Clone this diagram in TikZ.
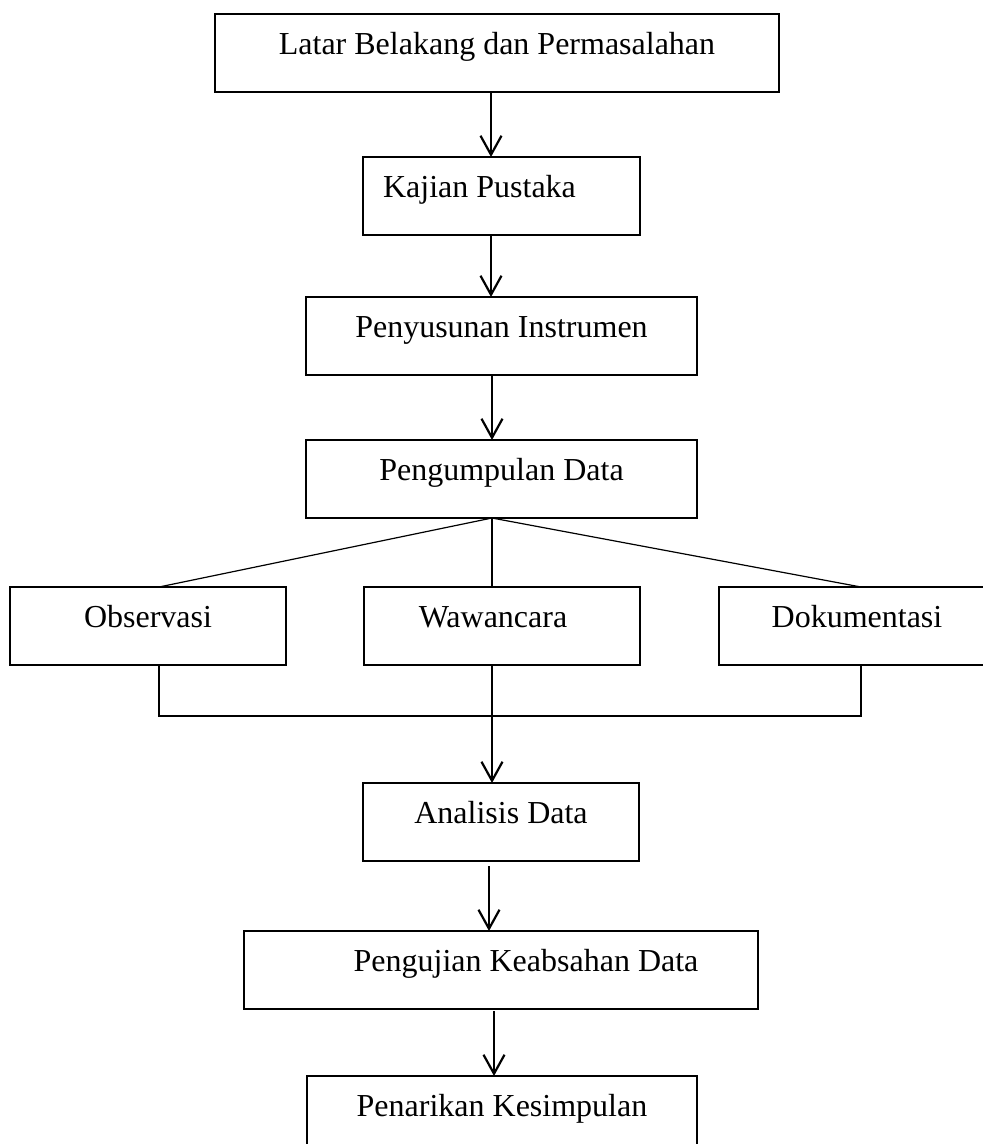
\documentclass[tikz,border=0pt]{standalone}
\usepackage{fontspec}
\setmainfont{Liberation Serif}
\usetikzlibrary{arrows.meta}
\begin{document}
\begin{tikzpicture}[x=1pt,y=-1pt,
  font=\fontsize{32}{38}\selectfont,
  boxnode/.style={draw=black, line width=1.1pt, rectangle, inner sep=0pt, outer sep=0pt,
    minimum height=78pt, text height=20pt, text depth=18pt},
  thinline/.style={draw=black, line width=1.2pt},
  flowarrow/.style={draw=black, line width=2.4pt, -{Straight Barb[length=19pt,width=21pt,line width=2.2pt]}}
]
\useasboundingbox (0,0) rectangle (983,1144);
\clip (0,0) rectangle (983,1144);

% boxes
\node[boxnode, minimum width=564pt] (b1) at (497,53) {Latar Belakang dan Permasalahan};
\node[boxnode, minimum width=277pt] (b2) at (501.5,196) {Kajian Pustaka\hspace*{44pt}};
\node[boxnode, minimum width=391pt] (b3) at (501.5,336) {Penyusunan Instrumen};
\node[boxnode, minimum width=391pt] (b4) at (501.5,479) {Pengumpulan Data};
\node[boxnode, minimum width=276pt] (b5) at (148,626) {Observasi};
\node[boxnode, minimum width=276pt] (b6) at (502,626) {Wawancara\hspace*{18pt}};
\node[boxnode, minimum width=276pt] (b7) at (857,626) {Dokumentasi};
\node[boxnode, minimum width=276pt] (b8) at (501,822) {Analisis Data};
\node[boxnode, minimum width=514pt] (b9) at (501,970) {\hspace*{50pt}Pengujian Keabsahan Data};
\node[boxnode, minimum width=390pt] (b10) at (502,1115) {Penarikan Kesimpulan};

% helper x positions
\coordinate (xa) at (491,0);
\coordinate (xb) at (492,0);
\coordinate (xo) at (159,0);
\coordinate (xd) at (861,0);
\coordinate (xe) at (489,0);
\coordinate (xf) at (494,0);
\coordinate (jo) at (159,716);
\coordinate (jd) at (861,716);
\coordinate (jm) at (492,716);

% arrows
\draw[flowarrow] (b1.south -| xa) -- (b2.north -| xa);
\draw[flowarrow] (b2.south -| xa) -- (b3.north -| xa);
\draw[flowarrow] (b3.south -| xb) -- (b4.north -| xb);

% fan-out
\draw[thinline] (b4.south -| xb) -- (b5.north -| xo);
\draw[thinline] (b4.south -| xb) -- (b6.north -| xb);
\draw[thinline] (b4.south -| xb) -- (b7.north -| xd);

% merge
\draw[thinline] (b5.south -| xo) -- (jo) -- (jd) -- (b7.south -| xd);
\draw[thinline] (b6.south -| xb) -- (jm);
\draw[flowarrow] (jm) -- (b8.north -| xb);

\draw[flowarrow] ([yshift=-5pt]b8.south -| xe) -- (b9.north -| xe);
\draw[flowarrow] ([yshift=-2pt]b9.south -| xf) -- (b10.north -| xf);
\end{tikzpicture}
\end{document}
